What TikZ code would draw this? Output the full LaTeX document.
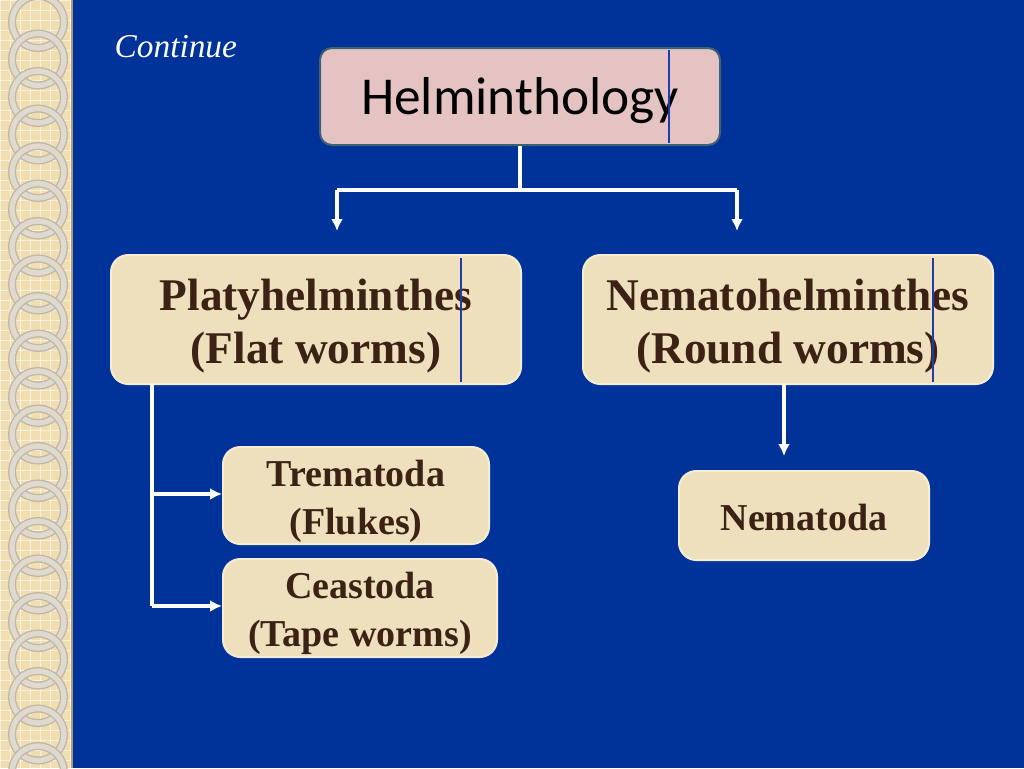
\documentclass[tikz,border=0pt]{standalone}
\usepackage{fontspec}
\setmainfont{Liberation Serif}
\newfontfamily\calfont{Carlito}
\usetikzlibrary{arrows.meta}
\definecolor{bg}{RGB}{0,51,153}
\definecolor{strip}{RGB}{240,222,176}
\definecolor{ringdark}{RGB}{190,182,168}
\definecolor{ringlight}{RGB}{224,218,206}
\definecolor{beige}{RGB}{238,223,189}
\definecolor{beigeedge}{RGB}{246,236,210}
\definecolor{pinkfill}{RGB}{230,195,195}
\definecolor{pinkedge}{RGB}{60,100,112}
\definecolor{brown}{RGB}{60,34,20}
\definecolor{cursor}{RGB}{30,60,170}
\tikzset{
  beigebox/.style={draw=beigeedge, line width=1.5pt, fill=beige, rounded corners=13pt, inner sep=0pt},
  boxtext/.style={align=center, text=brown, inner sep=0pt},
  pinkbox/.style={draw=pinkedge, line width=1.5pt, fill=pinkfill, rounded corners=9pt, inner sep=0pt},
  conn/.style={draw=white, line width=2.4pt},
  arr/.style={conn, -{Latex[length=9pt,width=9pt]}},
  cur/.style={draw=cursor, line width=0.8pt}
}
\begin{document}
\begin{tikzpicture}[x=0.75pt,y=-0.75pt]
\useasboundingbox (0,0) rectangle (1024,768);
\fill[bg] (0,0) rectangle (1024,768);
% left decorative strip
\fill[strip] (0,0) rectangle (72,768);
\foreach \g in {0,10,...,70} {\draw[white,opacity=0.55,line width=0.5pt] (\g,0) -- (\g,768);}
\foreach \g in {0,10,...,768} {\draw[white,opacity=0.55,line width=0.5pt] (0,\g) -- (72,\g);}
\foreach \k in {0,...,20} {
  \draw[ringdark, line width=6pt] (38,{22+37.5*\k}) circle [radius=26];
  \draw[ringlight, line width=4pt] (38,{22+37.5*\k}) circle [radius=26];
}
\draw[line width=1pt, color=strip!70!black] (72,0) -- (72,768);

% title
\node[text=white, font=\itshape\fontsize{25}{30}\selectfont, anchor=west] (cont) at (110,47) {Continue};

% nodes
\node[pinkbox, minimum width=300pt, minimum height=72.75pt,
  label={[font=\calfont\fontsize{40}{46}\selectfont, text=black, yshift=-3pt]center:Helminthology}] (helm) at (520,96.5) {};
\draw[cur] (669,50) -- (669,143);

\node[beigebox, minimum width=307.5pt, minimum height=96.75pt,
  label={[boxtext, font=\bfseries\fontsize{34}{40}\selectfont, yshift=-5pt]center:Platyhelminthes\\(Flat worms)}] (platy) at (316,319.5) {};
\draw[cur] (461,258) -- (461,382);

\node[beigebox, minimum width=307.5pt, minimum height=96.75pt,
  label={[boxtext, font=\bfseries\fontsize{34}{40}\selectfont, yshift=-5pt]center:Nematohelminthes\\(Round worms)}] (nemato) at (788,319.5) {};
\draw[cur] (933,258) -- (933,382);

\node[beigebox, minimum width=199.5pt, minimum height=72.75pt,
  label={[boxtext, font=\bfseries\fontsize{28.5}{36}\selectfont, yshift=-4.5pt]center:Trematoda\\(Flukes)}] (trem) at (356,495.5) {};
\node[beigebox, minimum width=205.5pt, minimum height=73.5pt,
  label={[boxtext, font=\bfseries\fontsize{28.5}{36}\selectfont, yshift=-4pt]center:Ceastoda\\(Tape worms)}] (ceas) at (360,608) {};
\node[beigebox, minimum width=187.5pt, minimum height=66.75pt,
  label={[boxtext, font=\bfseries\fontsize{28.5}{36}\selectfont, yshift=-1.5pt]center:Nematoda}] (nematoda) at (804,515.5) {};

% connector coordinates
\coordinate (hj) at (520,190);
\coordinate (hl) at (337,190);
\coordinate (hr) at (737,190);
\coordinate (hle) at (337,231);
\coordinate (hre) at (737,231);
\coordinate (pt) at (152,384);
\coordinate (pm) at (152,494);
\coordinate (pb) at (152,606);
\coordinate (nt) at (784,384);
\coordinate (ne) at (784,456);

\draw[conn] (helm.south -| hj) -- (hj);
\draw[conn] (hl) -- (hr);
\draw[arr] (hl) -- (hle);
\draw[arr] (hr) -- (hre);

\draw[conn] (pt) -- (pb);
\draw[arr] (pm) -- (pm -| trem.west);
\draw[arr] (pb) -- (pb -| ceas.west);

\draw[arr] (nt) -- (ne);
\end{tikzpicture}
\end{document}
